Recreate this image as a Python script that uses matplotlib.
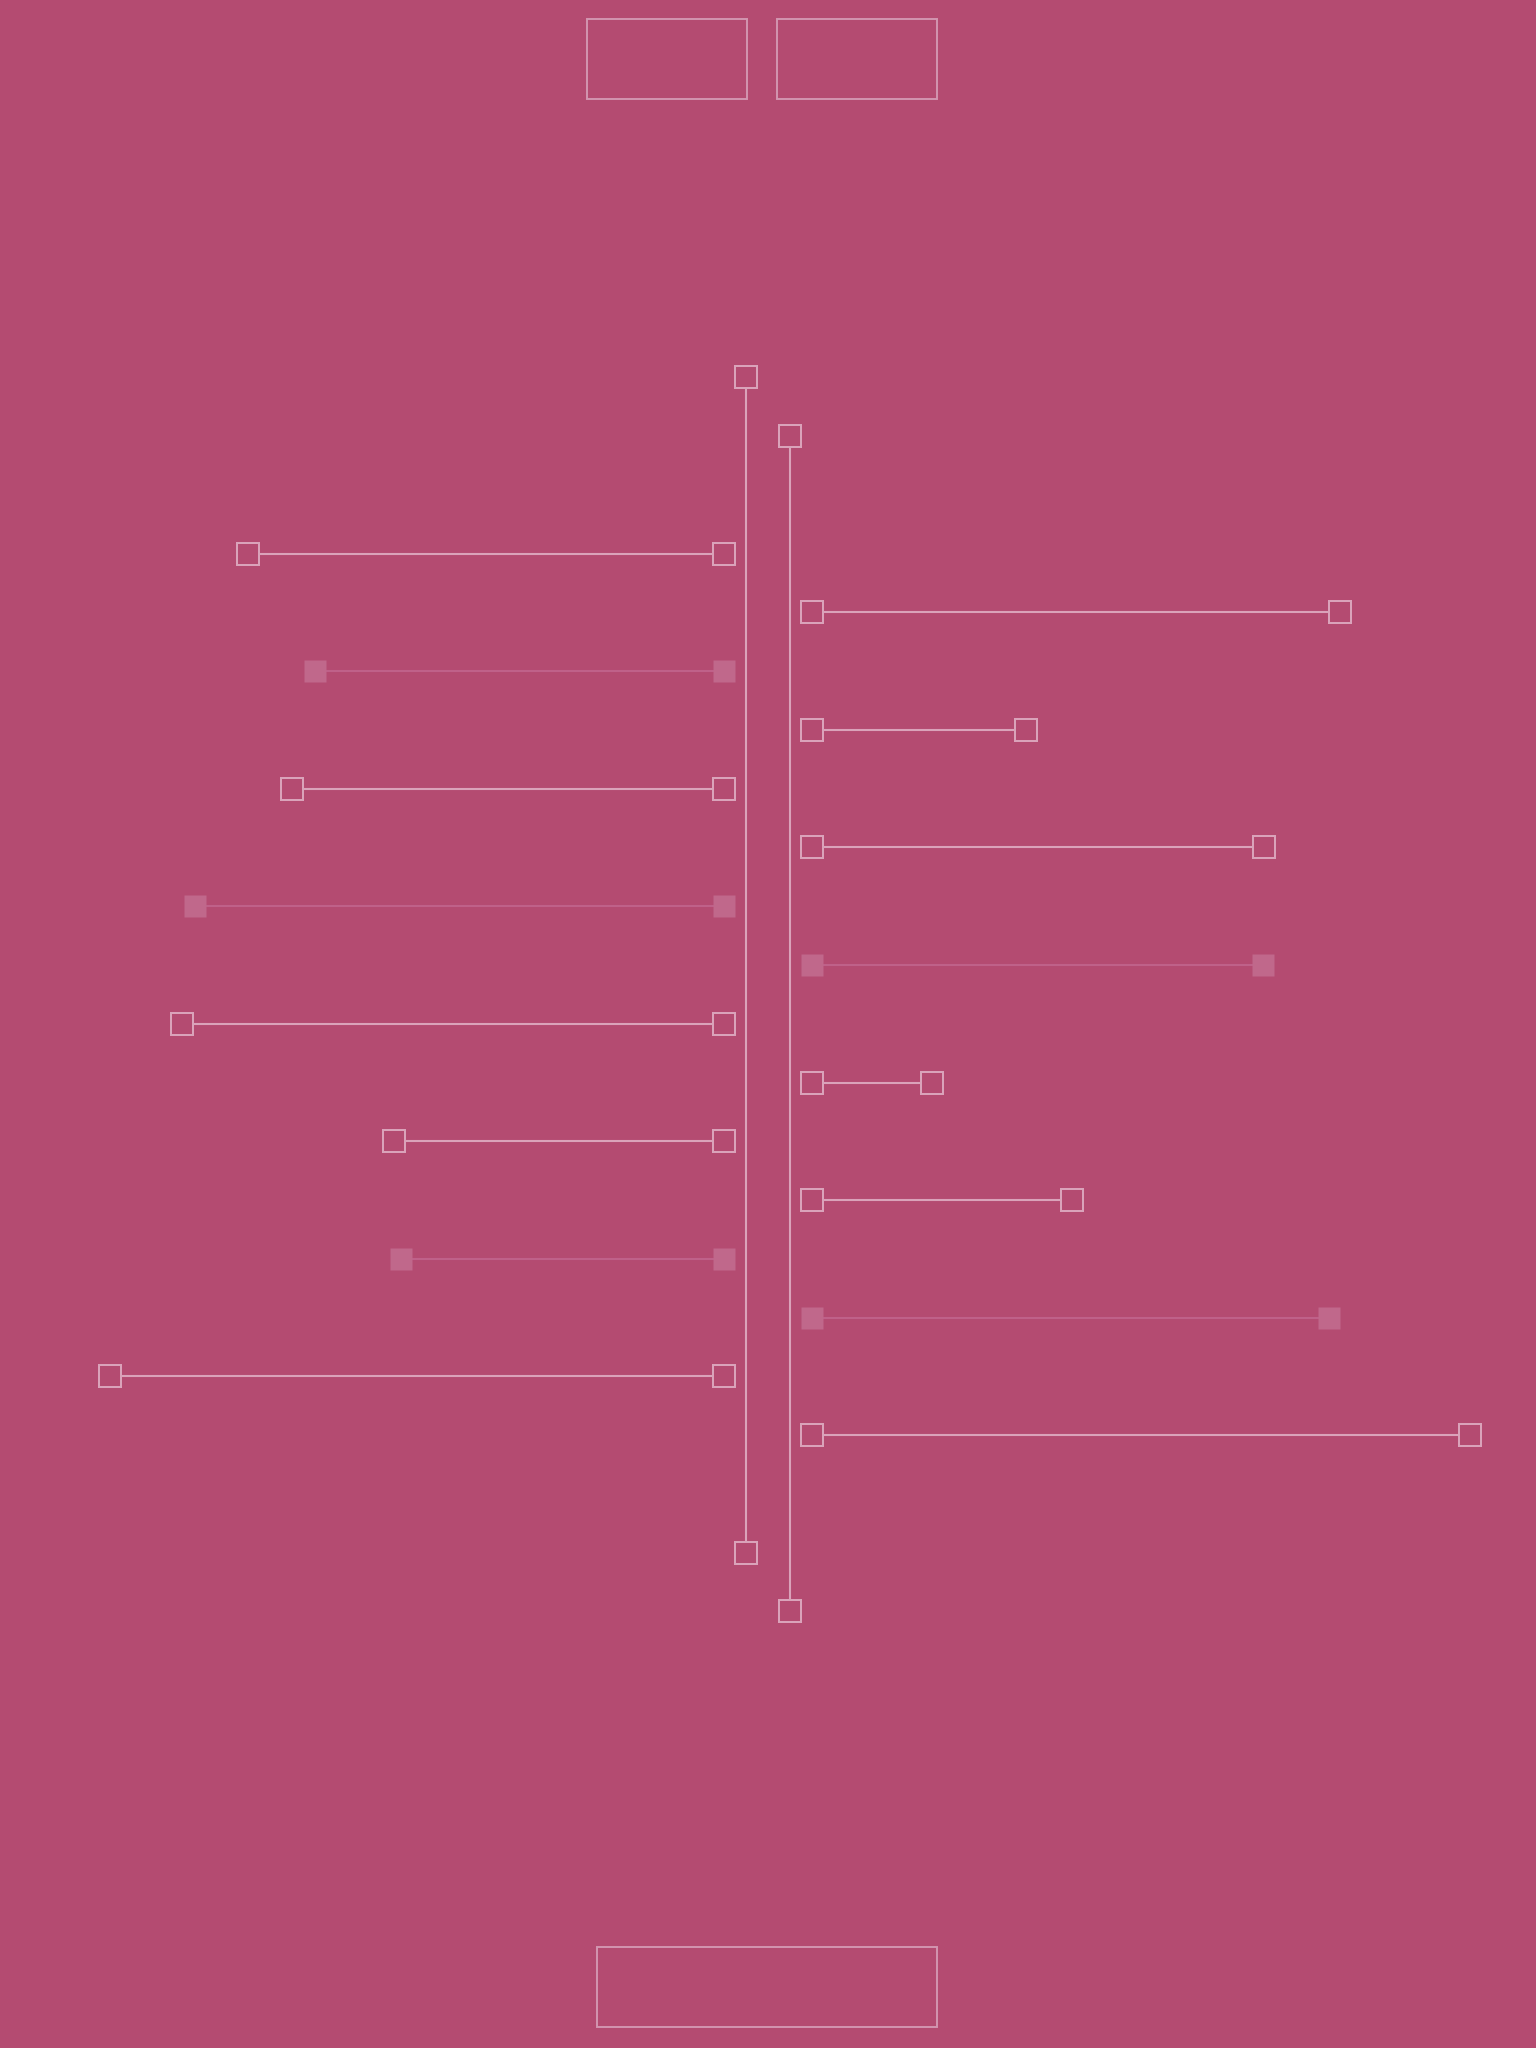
import matplotlib
matplotlib.use('Agg')
import matplotlib.pyplot as plt
from matplotlib.patches import Rectangle
import numpy as np

### Data

# time steps (rows) and bar values for the two sides
left_steps = [3, 5, 7, 9, 11, 13, 15, 17]
left_values = [476, 409, 432, 529, 542, 330, 323, 614]
left_faded = [False, True, False, True, False, False, True, False]

right_steps = [4, 6, 8, 10, 12, 14, 16, 18]
right_values = [528, 214, 452, 451, 120, 260, 517, 658]
right_faded = [False, False, False, True, False, False, True, False]

# start / end steps of the two vertical stems
left_stem = [0, 20]
right_stem = [1, 21]

### Style

colors = {
    'bg': '#B44B71',
    'line': '#DAA3BA',
    'box': '#D296B0',
    'faded_fill': '#C0688B',
    'faded_line': '#BF6189',
}
stem_offset = 22
bar_offset = 44
ms = 15.2
mew = 1.45
lw = 1.5

### Plot

fig = plt.figure(figsize=(15.36, 20.48), dpi=100)
fig.patch.set_facecolor(colors['bg'])
ax = fig.add_axes([0, 0, 1, 1])
ax.set_facecolor(colors['bg'])
ax.set_xlim(-768, 768)
ax.set_ylim(28.434, -6.4255)
ax.axis('off')

# vertical stems
for sx, (s0, s1) in [(-stem_offset, left_stem), (stem_offset, right_stem)]:
    ax.plot([sx, sx], [s0, s1], color=colors['line'], lw=lw, zorder=1)
    ax.plot([sx, sx], [s0, s1], ls='none', marker='s', ms=ms,
            mfc=colors['bg'], mec=colors['line'], mew=mew, zorder=3)

# horizontal bars
def draw_side(steps, values, faded, sign):
    for s, v, f in zip(steps, values, faded):
        x0 = sign * bar_offset
        x1 = x0 + sign * v
        if f:
            ax.plot([x0, x1], [s, s], color=colors['faded_line'], lw=lw, zorder=1)
            ax.plot([x0, x1], [s, s], ls='none', marker='s', ms=ms + 0.5,
                    mfc=colors['faded_fill'], mec='none', zorder=3)
        else:
            ax.plot([x0, x1], [s, s], color=colors['line'], lw=lw, zorder=2)
            ax.plot([x0, x1], [s, s], ls='none', marker='s', ms=ms,
                    mfc=colors['bg'], mec=colors['line'], mew=mew, zorder=3)

draw_side(left_steps, left_values, left_faded, -1)
draw_side(right_steps, right_values, right_faded, 1)

# empty header / footer boxes (figure pixel coordinates)
W, H = 1536, 2048
boxes = [(587, 19, 160, 80), (777, 19, 160, 80), (597, 1947, 340, 80)]
for bx, by, bw, bh in boxes:
    fig.patches.append(Rectangle((bx / W, 1 - (by + bh) / H), bw / W, bh / H,
                                 transform=fig.transFigure, fill=False,
                                 edgecolor=colors['box'], lw=1.4))

fig.savefig('out.png', dpi=100, facecolor=colors['bg'])
